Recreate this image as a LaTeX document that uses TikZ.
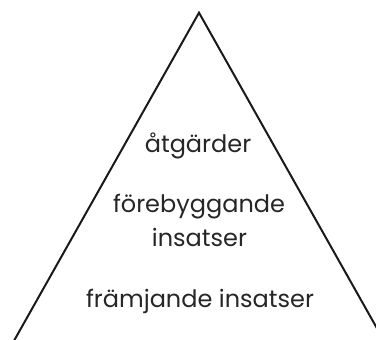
\documentclass[tikz,border=0pt]{standalone}
\usepackage{fontspec}
\setmainfont{Poppins}
\begin{document}
\begin{tikzpicture}[x=1pt,y=1pt,
  edge/.style={line width=2pt,line join=miter,color=black!90},
  lbl/.style={font=\fontsize{24}{34}\selectfont,text=black!85,anchor=base,inner sep=0pt,align=center}]
\useasboundingbox (0,0) rectangle (376,340);
\clip (0,0) rectangle (376,340);
\coordinate (apex) at (199,327.3);
\coordinate (bl) at (13.3,-2);
\coordinate (br) at (384.7,-2);
\draw[edge] (bl) -- (apex) -- (br);
\node[lbl] (t1) at (198,187) {åtgärder};
\node[lbl] (t2) at (199,127) {förebyggande};
\node[lbl] (t3) at (199.5,93) {insatser};
\node[lbl] (t4) at (200,32) {främjande insatser};
\end{tikzpicture}
\end{document}
